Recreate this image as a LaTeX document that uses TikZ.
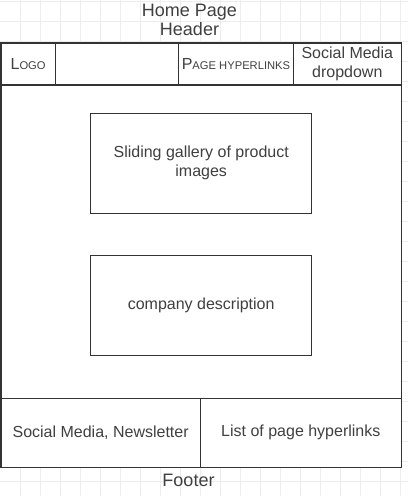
\documentclass[tikz,border=0pt]{standalone}
\usepackage{fontspec}
\setmainfont{Liberation Sans}
\definecolor{linec}{HTML}{333333}
\definecolor{textc}{HTML}{404040}
\definecolor{gridc}{HTML}{EDEDED}
% faked small capitals (Liberation Sans has no smcp feature)
\newcommand\smallcapsfake[1]{{\fontsize{11.2}{12}\selectfont #1}}
\begin{document}
\begin{tikzpicture}[x=1pt,y=-1pt,
  cell/.style={draw=linec, fill=white, line width=1.1pt, inner sep=0pt,
    align=center, text=textc, font=\fontsize{16}{19}\selectfont},
  caption/.style={text=textc, inner sep=0pt, align=center,
    font=\fontsize{18}{18.5}\selectfont}]
\useasboundingbox (0,0) rectangle (408,496);
\fill[white] (0,0) rectangle (408,496);
% background grid
\foreach \gx in {20.7,40.7,...,400.8}
  \draw[gridc, line width=0.8pt] (\gx,0) -- (\gx,496);
\foreach \gy in {1.3,21.3,...,481.4}
  \draw[gridc, line width=0.8pt] (0,\gy) -- (408,\gy);

% page body
\node[cell, minimum width=400.3pt, minimum height=313.3pt] (body) at (201.15,241.65) {};

% header row
\node[cell, minimum width=54.3pt, minimum height=42pt] (logo) at (28.15,64) {L\smallcapsfake{OGO}};
\node[cell, minimum width=123.4pt, minimum height=42pt] (blank) at (117,64) {};
\node[cell, minimum width=114.6pt, minimum height=42pt] (links) at (236,64) {P\smallcapsfake{AGE HYPERLINKS}};
\node[cell, minimum width=108pt, minimum height=42pt] (social) at (347.3,64) {Social Media\\dropdown};

% content blocks
\node[cell, minimum width=221pt, minimum height=100pt] (gallery) at (201.2,163.3) {Sliding gallery of product\\images};
\node[cell, minimum width=221pt, minimum height=100pt] (company) at (201.2,305.3) {company description};

% footer row
\node[cell, minimum width=199.3pt, minimum height=69pt] (footleft) at (100.65,432.8) {Social Media, Newsletter};
\node[cell, minimum width=201pt, minimum height=69pt] (footright) at (300.8,432.8) {List of page hyperlinks};

% captions
\node[caption] (headcap) at (189.5,20) {Home Page\\Header};
\node[caption] (footcap) at (188.5,480) {Footer};
\end{tikzpicture}
\end{document}
